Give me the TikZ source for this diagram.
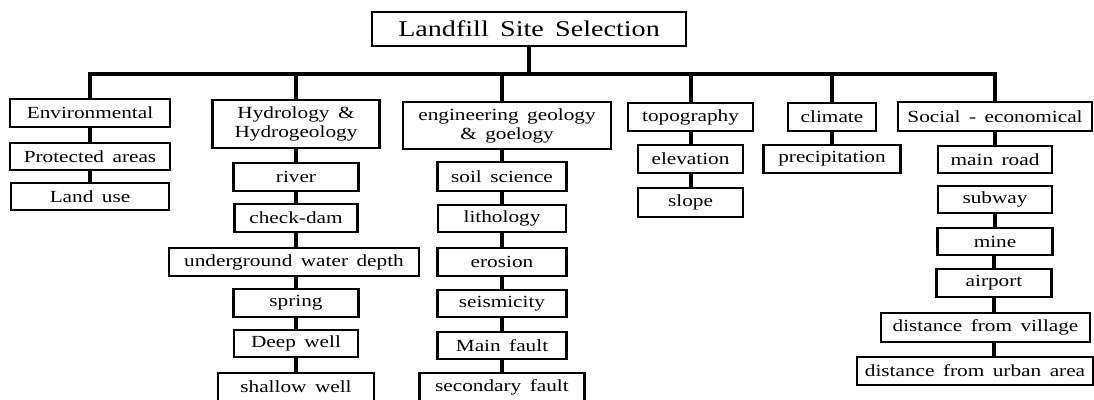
\documentclass[tikz,border=0pt]{standalone}
\usepackage{fontspec}
\setmainfont[FakeStretch=1.25,WordSpace=1.6]{Liberation Serif}
\begin{document}
\begin{tikzpicture}[x=1pt,y=-1pt,
        box/.style={draw,line width=2.2pt,inner sep=0pt,align=center,font=\fontsize{17}{19}\selectfont},
        stem/.style={line width=4pt}]
        \useasboundingbox (0,0) rectangle (1094,399);

        \node[box,font=\fontsize{22.5}{25}\selectfont,minimum width=314pt,minimum height=34pt] (Landfill) at (529,29) {Landfill Site Selection};
        \coordinate (bus) at (0,74);

        \node[box,minimum width=160pt,minimum height=28pt] (Environmental) at (90,113) {Environmental};
        \node[box,minimum width=160pt,minimum height=27pt] (Protected) at (90,156.5) {Protected areas};
        \node[box,minimum width=158pt,minimum height=27pt] (Landuse) at (90,196.5) {Land use};

        \node[box,minimum width=167pt,minimum height=48pt] (Hydrology) at (296,124) {Hydrology \&\\Hydrogeology};
        \node[box,minimum width=125pt,minimum height=28pt] (River) at (296,177) {river};
        \node[box,minimum width=123pt,minimum height=28pt] (Checkdam) at (296,218) {check-dam};
        \node[box,minimum width=250pt,minimum height=28pt] (Underground) at (294,262) {underground water depth};
        \node[box,minimum width=125pt,minimum height=28pt] (Spring) at (296,303) {spring};
        \node[box,minimum width=124pt,minimum height=27pt] (Deepwell) at (296,343.5) {Deep well};
        \node[box,minimum width=156pt,minimum height=28pt] (Shallowwell) at (296,387) {shallow well};

        \node[box,minimum width=208pt,minimum height=47pt] (Engineering) at (507,125.5) {engineering geology\\\& goelogy};
        \node[box,minimum width=129pt,minimum height=29pt] (Soil) at (502,176.5) {soil science};
        \node[box,minimum width=128pt,minimum height=27pt] (Lithology) at (502,218.5) {lithology};
        \node[box,minimum width=129pt,minimum height=28pt] (Erosion) at (502,262) {erosion};
        \node[box,minimum width=129pt,minimum height=27pt] (Seismicity) at (502,303.5) {seismicity};
        \node[box,minimum width=129pt,minimum height=27pt] (Mainfault) at (502,345.5) {Main fault};
        \node[box,minimum width=165pt,minimum height=28pt] (Secondaryfault) at (502,387) {secondary fault};

        \node[box,minimum width=125pt,minimum height=28pt] (Topography) at (690.5,117) {topography};
        \node[box,minimum width=105pt,minimum height=28pt] (Elevation) at (690.5,159) {elevation};
        \node[box,minimum width=105pt,minimum height=29pt] (Slope) at (690.5,202.5) {slope};

        \node[box,minimum width=88pt,minimum height=28pt] (Climate) at (832,117) {climate};
        \node[box,minimum width=137pt,minimum height=28pt] (Precipitation) at (832,159) {precipitation};

        \node[box,minimum width=194pt,minimum height=29pt] (Social) at (995,116.5) {Social - economical};
        \node[box,minimum width=114pt,minimum height=27pt] (Mainroad) at (995,159.5) {main road};
        \node[box,minimum width=114pt,minimum height=27pt] (Subway) at (995,199.5) {subway};
        \node[box,minimum width=115pt,minimum height=27pt] (Mine) at (995,241.5) {mine};
        \node[box,minimum width=115pt,minimum height=28pt] (Airport) at (994,283) {airport};
        \node[box,minimum width=209pt,minimum height=29pt] (Village) at (985.5,327.5) {distance from village};
        \node[box,minimum width=236pt,minimum height=28pt] (Urban) at (975,371) {distance from urban area};

        \draw[stem] (Landfill) -- (Landfill |- bus);
        \draw[stem] (Environmental) -- (Environmental |- bus) -- (Social |- bus) -- (Social);
        \draw[stem] (Hydrology) -- (Hydrology |- bus);
        \draw[stem] (Engineering.north -| Soil) -- (Soil |- bus);
        \draw[stem] (Topography) -- (Topography |- bus);
        \draw[stem] (Climate) -- (Climate |- bus);

        \draw[stem] (Environmental) -- (Protected);
        \draw[stem] (Protected) -- (Landuse);
        \draw[stem] (Hydrology) -- (River);
        \draw[stem] (River) -- (Checkdam);
        \draw[stem] (Checkdam) -- (Checkdam |- Underground.north);
        \draw[stem] (Underground.south -| Spring) -- (Spring);
        \draw[stem] (Spring) -- (Deepwell);
        \draw[stem] (Deepwell) -- (Shallowwell);
        \draw[stem] (Engineering.south -| Soil) -- (Soil);
        \draw[stem] (Soil) -- (Lithology);
        \draw[stem] (Lithology) -- (Erosion);
        \draw[stem] (Erosion) -- (Seismicity);
        \draw[stem] (Seismicity) -- (Mainfault);
        \draw[stem] (Mainfault) -- (Secondaryfault);
        \draw[stem] (Topography) -- (Elevation);
        \draw[stem] (Elevation) -- (Slope);
        \draw[stem] (Climate) -- (Precipitation);
        \draw[stem] (Social) -- (Mainroad);
        \draw[stem] (Subway) -- (Mine);
        \draw[stem] (Mine.south -| Airport) -- (Airport);
        \draw[stem] (Airport) -- (Airport |- Village.north);
        \draw[stem] (Village.south -| Airport) -- (Urban.north -| Airport);
    \end{tikzpicture}
\end{document}
